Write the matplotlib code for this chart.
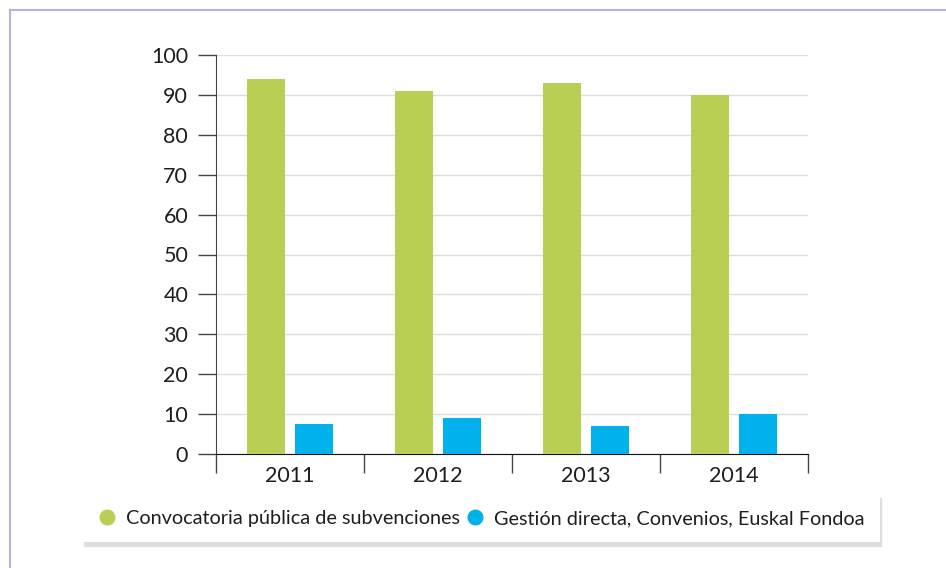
import matplotlib.pyplot as plt
from matplotlib.lines import Line2D
import numpy as np

years = ["2011", "2012", "2013", "2014"]
convocatoria = [94, 91, 93, 90]
gestion = [7.5, 9, 7, 10]
series_names = ["Convocatoria pública de subvenciones",
                "Gestión directa, Convenios, Euskal Fondoa"]
yticks = [0, 10, 20, 30, 40, 50, 60, 70, 80, 90, 100]

green = "#b9cf54"
blue = "#00b1eb"
text_col = "#1e1e1e"

plt.rcParams['font.family'] = ['Lato', 'DejaVu Sans']

fig = plt.figure(figsize=(9.46, 5.68), dpi=100)
ax = fig.add_axes([216 / 946, 1 - 454 / 568, 592 / 946, 399 / 568])

x = np.arange(len(years))
w = 0.257
ax.bar(x - 0.162, convocatoria, width=w, color=green, zorder=3)
ax.bar(x + 0.162, gestion, width=w, color=blue, zorder=3)

ax.set_xlim(-0.5, 3.5)
ax.set_ylim(0, 100)
ax.set_yticks(yticks)
ax.set_xticks(x)
ax.set_xticklabels(years)
ax.set_xticks(np.arange(-0.5, 4.0, 1.0), minor=True)

ax.tick_params(axis='y', direction='out', length=13, width=1, color='#444444',
               labelsize=15.5, labelcolor=text_col, pad=7)
ax.tick_params(axis='x', which='major', length=0, labelsize=15.5,
               labelcolor=text_col, pad=9)
ax.tick_params(axis='x', which='minor', direction='out', length=14, width=1,
               color='#444444')

ax.grid(axis='y', color='#dddddd', linewidth=1, zorder=0)
for s in ['top', 'right']:
    ax.spines[s].set_visible(False)
ax.spines['left'].set_color('#444444')
ax.spines['bottom'].set_color('#111111')

# outer frame (top and left only)
frame_col = "#b4b4d6"
fig.add_artist(Line2D([9.5 / 946, 1], [1 - 10 / 568, 1 - 10 / 568],
                      transform=fig.transFigure, color=frame_col, lw=1.5))
fig.add_artist(Line2D([9.5 / 946, 9.5 / 946], [0, 1 - 10 / 568],
                      transform=fig.transFigure, color=frame_col, lw=1.5))

handles = [Line2D([], [], marker='o', linestyle='none', markersize=10.5,
                  color=c) for c in (green, blue)]
leg = fig.legend(handles, series_names, ncol=2, mode='expand', loc='center',
                 bbox_to_anchor=(83 / 946, 1 - 542 / 568, 797 / 946, 47 / 568),
                 fontsize=14.3, frameon=True, fancybox=False,
                 shadow={'ox': 1, 'oy': -2.5, 'color': '#dedede', 'alpha': 1},
                 handlelength=0.9, handletextpad=0.5, borderpad=0.78,
                 borderaxespad=0)
leg.get_frame().set_facecolor('white')
leg.get_frame().set_edgecolor('none')
for t in leg.get_texts():
    t.set_color(text_col)

fig.savefig("out.png", dpi=100)
